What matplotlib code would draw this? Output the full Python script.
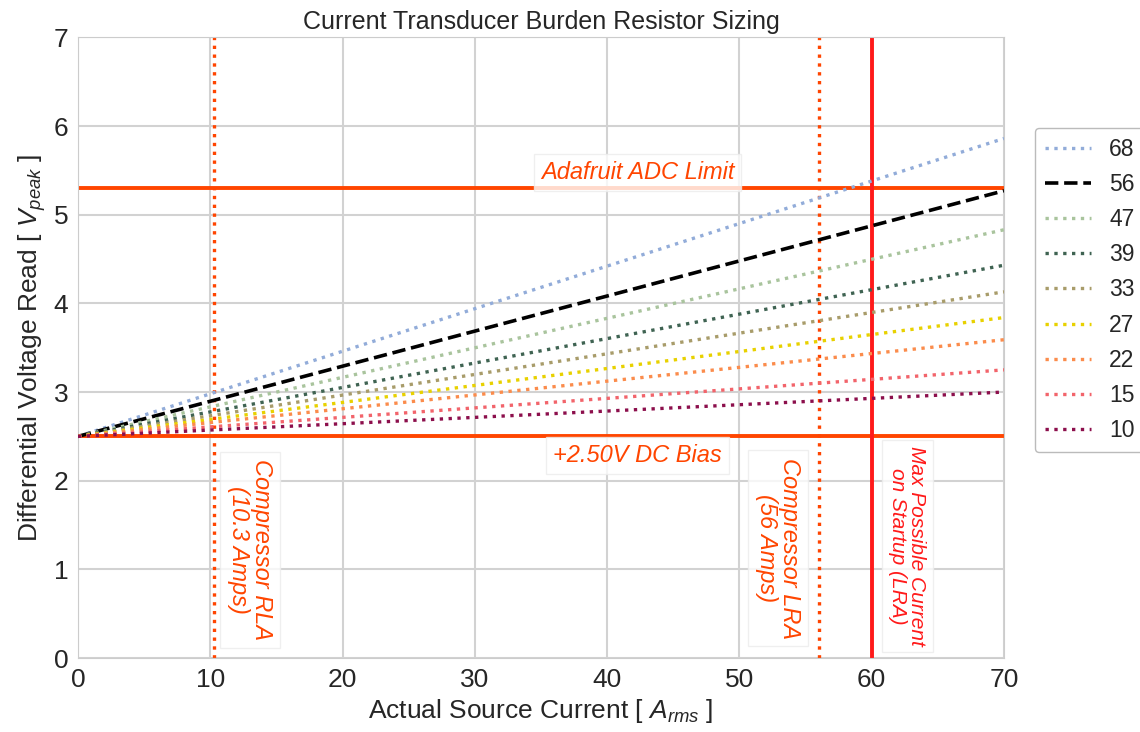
import matplotlib
matplotlib.use("Agg")
import matplotlib.pyplot as plt
import seaborn as sns

sns.set_style("whitegrid")
plt.rcParams['font.family'] = ['Liberation Sans', 'DejaVu Sans']
plt.rcParams['mathtext.fontset'] = 'custom'
plt.rcParams['mathtext.it'] = 'Liberation Sans:italic'
plt.rcParams['mathtext.rm'] = 'Liberation Sans'

# Burden resistor values (ohms) and the peak voltage each gives at 70 A rms
resistors = ["68", "56", "47", "39", "33", "27", "22", "15", "10"]
current_span = [0, 70]
bias_voltage = 2.50
end_voltage = [5.86, 5.27, 4.83, 4.43, 4.13, 3.84, 3.59, 3.25, 3.00]
line_colors = ["#92acd9", "#000000", "#a9c49d", "#3f6352", "#a89c6a",
               "#e8d100", "#fb8c4c", "#f2646b", "#8c0f4c"]
line_styles = [":", "--", ":", ":", ":", ":", ":", ":", ":"]

adc_limit = 5.3
rla_current = 10.3
lra_current = 56
max_current = 60

fig = plt.figure(figsize=(11.4, 7.32), dpi=100)
ax = fig.add_axes([0.0684, 0.101, 0.8123, 0.848])
ax.grid(True, color="#d2d2d2", lw=1.5)

for name, v_end, col, ls in zip(resistors, end_voltage, line_colors, line_styles):
    ax.plot(current_span, [bias_voltage, v_end], color=col, linestyle=ls,
            lw=2.6 if ls == "--" else 2.4, label=name, zorder=3)

ax.axhline(adc_limit, color="#ff4500", lw=2.8, zorder=2)
ax.axhline(bias_voltage, color="#ff4500", lw=2.8, zorder=2)
ax.axvline(rla_current, color="#ff4500", lw=2.4, linestyle=":", zorder=2)
ax.axvline(lra_current, color="#ff4500", lw=2.4, linestyle=":", zorder=2)
ax.axvline(max_current, color="#ff1a1a", lw=2.8, zorder=2)

box = dict(facecolor="white", edgecolor="#ececec", alpha=0.8, boxstyle="square,pad=0.3")
ax.text(42.3, 5.48, "Adafruit ADC Limit", color="#ff4500", fontsize=17,
        style="italic", ha="center", va="center", bbox=box)
ax.text(42.3, 2.28, "+2.50V DC Bias", color="#ff4500", fontsize=17,
        style="italic", ha="center", va="center", bbox=box)
ax.text(13.0, 1.22, "Compressor RLA\n(10.3 Amps)", color="#ff4500", fontsize=17,
        style="italic", rotation=270, ha="center", va="center", bbox=box,
        linespacing=1.0)
ax.text(52.9, 1.24, "Compressor LRA\n(56 Amps)", color="#ff4500", fontsize=17,
        style="italic", rotation=270, ha="center", va="center", bbox=box,
        linespacing=1.0)
ax.text(62.7, 1.26, "Max Possible Current\non Startup (LRA)", color="#ff1a1a",
        fontsize=15, style="italic", rotation=270, ha="center", va="center",
        bbox=box, linespacing=1.0)

ax.set_xlim(0, 70)
ax.set_ylim(0, 7)
ax.tick_params(labelsize=19, colors="#262626")
ax.set_xlabel("Actual Source Current [ $A_{rms}$ ]", fontsize=19, color="#262626")
ax.set_ylabel("Differential Voltage Read [ $V_{peak}$ ]", fontsize=19, color="#262626")
ax.set_title("Current Transducer Burden Resistor Sizing", fontsize=18, color="#262626")

leg = ax.legend(loc="center left", bbox_to_anchor=(1.033, 0.593), fontsize=16.5,
                frameon=True, handlelength=2.0, handletextpad=0.8,
                labelspacing=0.53, borderaxespad=0, borderpad=0.45)
leg.get_frame().set_edgecolor("#aaaaaa")

fig.savefig("out.png", dpi=100)
